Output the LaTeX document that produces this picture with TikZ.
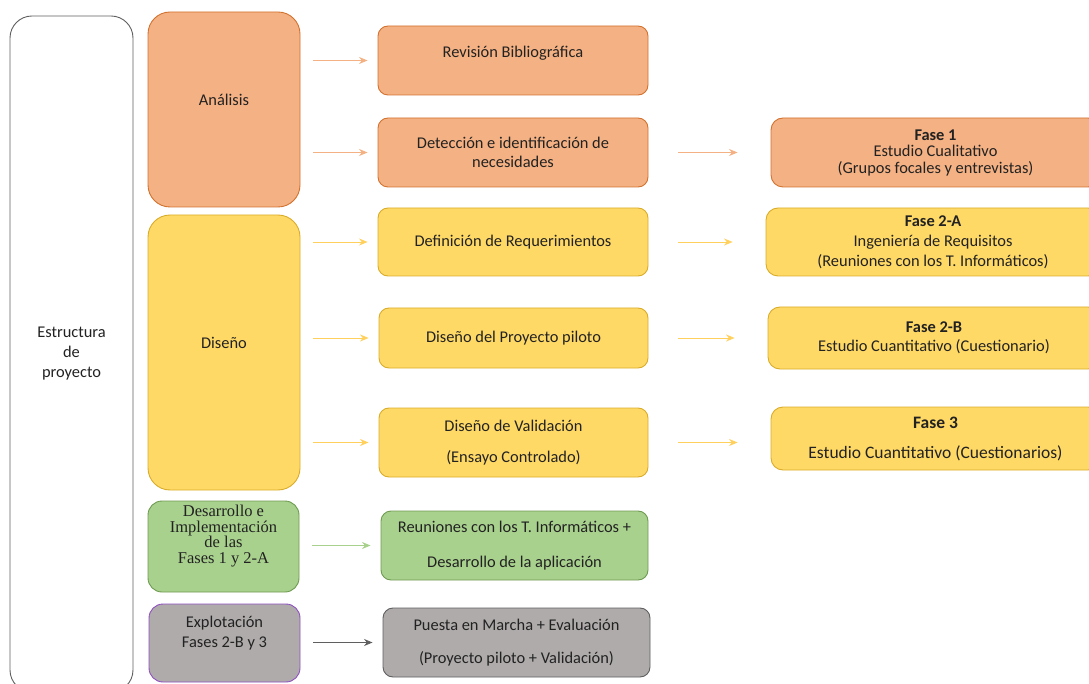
\documentclass[tikz,border=0pt]{standalone}
\usepackage{fontspec}
\setmainfont{Carlito}
\newfontfamily\serifa{Liberation Serif}
\usetikzlibrary{arrows.meta,positioning}
\definecolor{naranja}{HTML}{F4B183}
\definecolor{naranjab}{HTML}{D2722F}
\definecolor{amarillo}{HTML}{FFD966}
\definecolor{amarillob}{HTML}{D9AC2A}
\definecolor{verde}{HTML}{A9D18E}
\definecolor{verdeb}{HTML}{6E9A50}
\definecolor{gris}{HTML}{AFABAB}
\definecolor{grisb}{HTML}{5F5F5F}
\definecolor{morado}{HTML}{8E4FC0}
\definecolor{texto}{HTML}{222222}
\tikzset{
    %Define standard arrow tip
    >={Stealth[length=8.5pt,width=7pt]},
    %Define style for boxes
    caja/.style={
           rectangle,
           rounded corners=10pt,
           line width=0.9pt,
           align=center,
           text=texto,
           font=\fontsize{16.4}{19.5}\selectfont},
    fase/.style={
           caja,
           rounded corners=12pt},
    grande/.style={
           caja,
           rounded corners=22pt},
    ana/.style={fill=naranja, draw=naranjab},
    dis/.style={fill=amarillo, draw=amarillob},
    des/.style={fill=verde, draw=verdeb},
    exp/.style={fill=gris, draw=grisb},
    % Define arrow style
    pil/.style={
           ->,
           line width=0.9pt,
           shorten <=13pt,
           shorten >=10pt,},
    pilder/.style={
           ->,
           line width=0.9pt,
           shorten <=30pt,
           shorten >=33pt,}
}
\begin{document}
\begin{tikzpicture}[x=1pt, y=-1pt]
  \path[use as bounding box, clip] (0,0) rectangle (1089,684);
  %left column
  \node[grande, draw=grisb, fill=white, minimum width=123pt, minimum height=676pt,
        font=\fontsize{16.4}{20}\selectfont] (est) at (71.5,354) {Estructura\\de\\proyecto};
  \node[grande, ana, minimum width=152pt, minimum height=195pt, text depth=20pt] (anal) at (224,109.5) {Análisis};
  \node[grande, dis, minimum width=152pt, minimum height=275pt, text depth=20pt] (disn) at (224,352.5) {Diseño};
  \node[caja, rounded corners=14pt, des, minimum width=151pt, minimum height=91pt, text depth=24pt,
        font=\serifa\fontsize{16.5}{15.5}\selectfont] (desa) at (223.5,546.5)
        {Desarrollo e\\Implementación\\de las\\Fases 1 y 2-A};
  \node[caja, rounded corners=14pt, fill=gris, draw=morado, minimum width=151pt, minimum height=78pt,
        text depth=22pt] (expl) at (224.5,643) {Explotación\\Fases 2-B y 3};
  %middle column
  \node[caja, ana, minimum width=270pt, minimum height=69pt, text depth=18pt] (rev) at (513,60.5) {Revisión Bibliográfica};
  \node[caja, ana, minimum width=270pt, minimum height=69pt] (det) at (513,152.5) {Detección e identificación de\\necesidades};
  \node[caja, dis, minimum width=270pt, minimum height=68pt] (req) at (513,242) {Definición de Requerimientos};
  \node[caja, dis, minimum width=269pt, minimum height=60pt] (pil) at (513.5,338) {Diseño del Proyecto piloto};
  \node[caja, dis, minimum width=269pt, minimum height=69pt] (val) at (513.5,442.5) {Diseño de Validación\\[12pt](Ensayo Controlado)};
  \node[caja, des, minimum width=267pt, minimum height=69pt] (reu) at (514.5,545.5) {Reuniones con los T. Informáticos +\\[15pt]Desarrollo de la aplicación};
  \node[caja, exp, minimum width=267pt, minimum height=69pt] (pue) at (516.5,642.5) {Puesta en Marcha + Evaluación\\[13pt](Proyecto piloto + Validación)};
  %right column
  \node[fase, ana, minimum width=329pt, minimum height=69pt, font=\fontsize{16.4}{16.5}\selectfont] (f1) at (935.5,152.5)
        {\textbf{Fase 1}\\Estudio Cualitativo\\(Grupos focales y entrevistas)};
  \node[fase, dis, minimum width=334pt, minimum height=68pt, font=\fontsize{16.4}{20}\selectfont] (f2a) at (933,242)
        {\textbf{Fase 2-A}\\Ingeniería de Requisitos\\(Reuniones con los T. Informáticos)};
  \node[fase, dis, minimum width=332pt, minimum height=62pt] (f2b) at (934,338)
        {\textbf{Fase 2-B}\\Estudio Cuantitativo (Cuestionario)};
  \node[fase, dis, minimum width=329pt, minimum height=63pt, font=\fontsize{17.5}{21}\selectfont] (f3) at (935.5,438.5)
        {\textbf{Fase 3}\\[9pt]Estudio Cuantitativo (Cuestionarios)};
  %arrows
  \draw[pil, naranja] (anal.east |- rev.west) -- (rev.west);
  \draw[pil, naranja] (anal.east |- det.west) -- (det.west);
  \draw[pil, amarillo!90!orange] (disn.east |- req.west) -- (req.west);
  \draw[pil, amarillo!90!orange] (disn.east |- pil.west) -- (pil.west);
  \draw[pil, amarillo!90!orange] (disn.east |- val.west) -- (val.west);
  \draw[pil, verde] (desa.east |- reu.west) -- (reu.west);
  \draw[pil, grisb] (expl.east |- pue.west) -- (pue.west);
  \draw[pilder, naranja] (det.east) -- (det.east -| f1.west);
  \draw[pilder, amarillo!90!orange] (req.east) -- (req.east -| f2a.west);
  \draw[pilder, amarillo!90!orange] (pil.east) -- (pil.east -| f2b.west);
  \draw[pilder, amarillo!90!orange] (val.east) -- (val.east -| f3.west);
\end{tikzpicture}
\end{document}
